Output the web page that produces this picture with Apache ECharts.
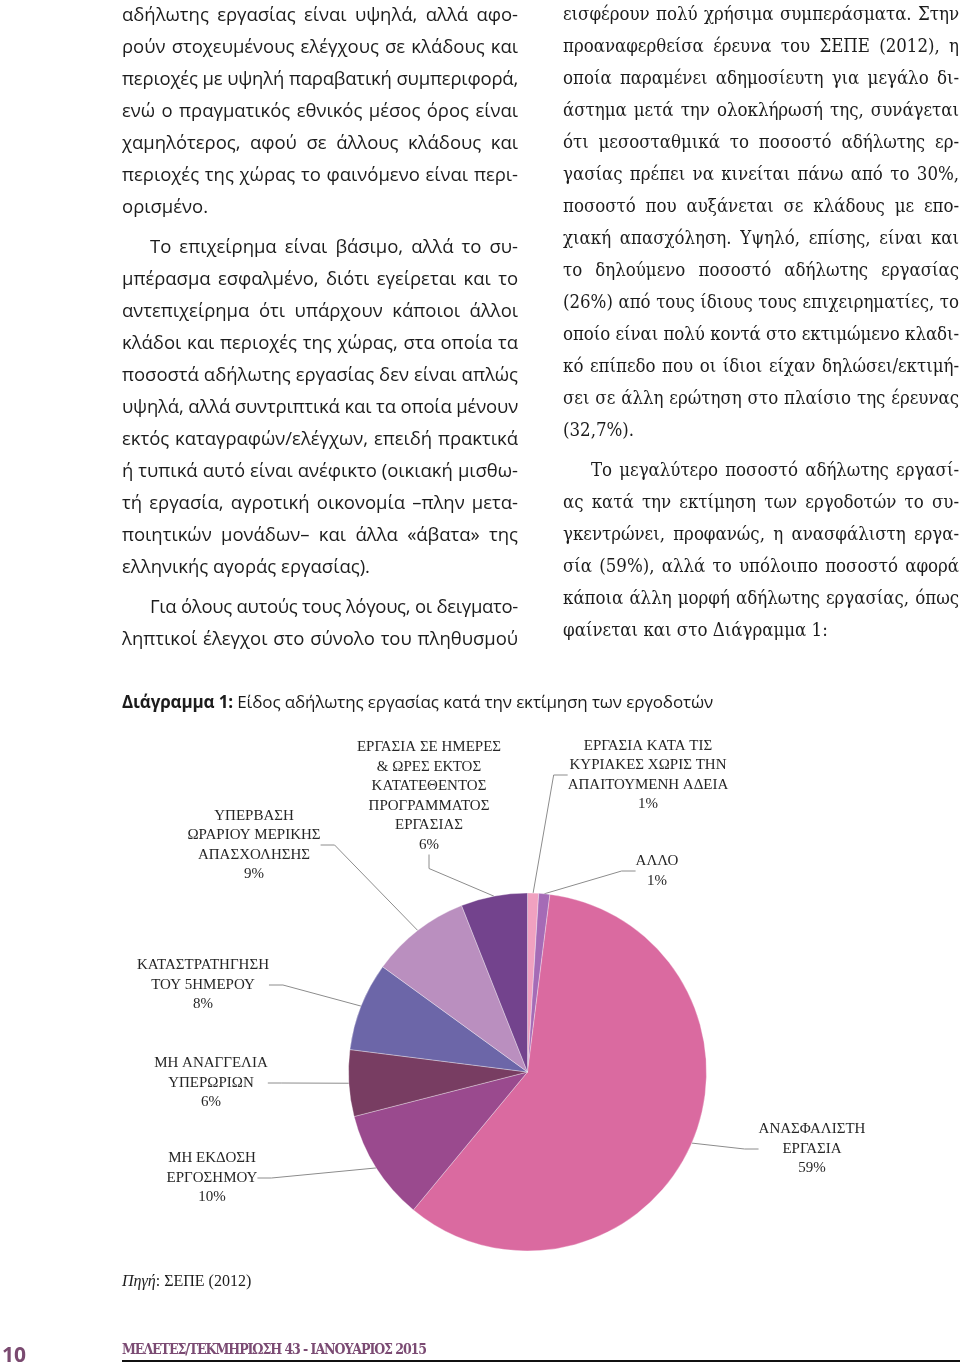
<!DOCTYPE html>
<html>
<head>
<meta charset="utf-8">
<script src="https://cdn.jsdelivr.net/npm/echarts@6/dist/echarts.min.js"></script>
<style>
html,body{margin:0;padding:0;background:#fff;}
#page{position:relative;width:960px;height:1368px;overflow:hidden;}
#chart{position:absolute;left:0;top:0;width:960px;height:1368px;}
.col{position:absolute;top:-2px;width:396px;color:#1c1c1c;line-height:32px;}
.left{left:122px;font-family:"Open Sans";font-size:18.5px;}
.right{left:563px;font-family:"DejaVu Serif";font-stretch:condensed;font-size:18.5px;}
.ln{white-space:nowrap;text-align:justify;text-align-last:justify;}
.ln.end{text-align-last:left;}
.ln.ind{padding-left:28px;}
.ln.par{margin-top:8px;}
#title{position:absolute;left:122px;top:690px;font-family:"Open Sans";font-size:17px;color:#1c1c1c;white-space:nowrap;}
#src{position:absolute;left:122px;top:1272px;font-family:"Liberation Serif";font-size:16px;color:#1c1c1c;white-space:nowrap;}
#pg{position:absolute;left:2px;top:1340px;font-family:"Open Sans";font-weight:bold;font-size:21px;color:#7a4a70;}
#foot{position:absolute;left:122px;top:1341px;font-family:"DejaVu Serif";font-stretch:condensed;font-weight:bold;font-size:14px;color:#7b4b73;white-space:nowrap;}
#rule{position:absolute;left:122px;top:1360px;width:838px;height:2px;background:#111;}
</style>
</head>
<body>
<div id="page">
  <div id="chart"></div>

  <div class="col left">
    <div class="ln">αδήλωτης εργασίας είναι υψηλά, αλλά αφο-</div>
    <div class="ln">ρούν στοχευμένους ελέγχους σε κλάδους και</div>
    <div class="ln">περιοχές με υψηλή παραβατική συμπεριφορά,</div>
    <div class="ln">ενώ ο πραγματικός εθνικός μέσος όρος είναι</div>
    <div class="ln">χαμηλότερος, αφού σε άλλους κλάδους και</div>
    <div class="ln">περιοχές της χώρας το φαινόμενο είναι περι-</div>
    <div class="ln end">ορισμένο.</div>
    <div class="ln ind par">Το επιχείρημα είναι βάσιμο, αλλά το συ-</div>
    <div class="ln">μπέρασμα εσφαλμένο, διότι εγείρεται και το</div>
    <div class="ln">αντεπιχείρημα ότι υπάρχουν κάποιοι άλλοι</div>
    <div class="ln">κλάδοι και περιοχές της χώρας, στα οποία τα</div>
    <div class="ln">ποσοστά αδήλωτης εργασίας δεν είναι απλώς</div>
    <div class="ln">υψηλά, αλλά συντριπτικά και τα οποία μένουν</div>
    <div class="ln">εκτός καταγραφών/ελέγχων, επειδή πρακτικά</div>
    <div class="ln">ή τυπικά αυτό είναι ανέφικτο (οικιακή μισθω-</div>
    <div class="ln">τή εργασία, αγροτική οικονομία –πλην μετα-</div>
    <div class="ln">ποιητικών μονάδων– και άλλα «άβατα» της</div>
    <div class="ln end">ελληνικής αγοράς εργασίας).</div>
    <div class="ln ind par">Για όλους αυτούς τους λόγους, οι δειγματο-</div>
    <div class="ln">ληπτικοί έλεγχοι στο σύνολο του πληθυσμού</div>
  </div>

  <div class="col right">
    <div class="ln">εισφέρουν πολύ χρήσιμα συμπεράσματα. Στην</div>
    <div class="ln">προαναφερθείσα έρευνα του ΣΕΠΕ (2012), η</div>
    <div class="ln">οποία παραμένει αδημοσίευτη για μεγάλο δι-</div>
    <div class="ln">άστημα μετά την ολοκλήρωσή της, συνάγεται</div>
    <div class="ln">ότι μεσοσταθμικά το ποσοστό αδήλωτης ερ-</div>
    <div class="ln">γασίας πρέπει να κινείται πάνω από το 30%,</div>
    <div class="ln">ποσοστό που αυξάνεται σε κλάδους με επο-</div>
    <div class="ln">χιακή απασχόληση. Υψηλό, επίσης, είναι και</div>
    <div class="ln">το δηλούμενο ποσοστό αδήλωτης εργασίας</div>
    <div class="ln">(26%) από τους ίδιους τους επιχειρηματίες, το</div>
    <div class="ln">οποίο είναι πολύ κοντά στο εκτιμώμενο κλαδι-</div>
    <div class="ln">κό επίπεδο που οι ίδιοι είχαν δηλώσει/εκτιμή-</div>
    <div class="ln">σει σε άλλη ερώτηση στο πλαίσιο της έρευνας</div>
    <div class="ln end">(32,7%).</div>
    <div class="ln ind par">Το μεγαλύτερο ποσοστό αδήλωτης εργασί-</div>
    <div class="ln">ας κατά την εκτίμηση των εργοδοτών το συ-</div>
    <div class="ln">γκεντρώνει, προφανώς, η ανασφάλιστη εργα-</div>
    <div class="ln">σία (59%), αλλά το υπόλοιπο ποσοστό αφορά</div>
    <div class="ln">κάποια άλλη μορφή αδήλωτης εργασίας, όπως</div>
    <div class="ln end">φαίνεται και στο Διάγραμμα 1:</div>
  </div>

  <div id="title"><b>Διάγραμμα 1:</b> Είδος αδήλωτης εργασίας κατά την εκτίμηση των εργοδοτών</div>
  <div id="src"><i>Πηγή</i>: ΣΕΠΕ (2012)</div>
  <div id="pg">10</div>
  <div id="foot">ΜΕΛΕΤΕΣ/ΤΕΚΜΗΡΙΩΣΗ 43 - ΙΑΝΟΥΑΡΙΟΣ 2015</div>
  <div id="rule"></div>
</div>

<script>
// data (clockwise from 12 o'clock)
var categories = [
  'ΕΡΓΑΣΙΑ ΚΑΤΑ ΤΙΣ\nΚΥΡΙΑΚΕΣ ΧΩΡΙΣ ΤΗΝ\nΑΠΑΙΤΟΥΜΕΝΗ ΑΔΕΙΑ',
  'ΑΛΛΟ',
  'ΑΝΑΣΦΑΛΙΣΤΗ\nΕΡΓΑΣΙΑ',
  'ΜΗ ΕΚΔΟΣΗ\nΕΡΓΟΣΗΜΟΥ',
  'ΜΗ ΑΝΑΓΓΕΛΙΑ\nΥΠΕΡΩΡΙΩΝ',
  'ΚΑΤΑΣΤΡΑΤΗΓΗΣΗ\nΤΟΥ 5ΗΜΕΡΟΥ',
  'ΥΠΕΡΒΑΣΗ\nΩΡΑΡΙΟΥ ΜΕΡΙΚΗΣ\nΑΠΑΣΧΟΛΗΣΗΣ',
  'ΕΡΓΑΣΙΑ ΣΕ ΗΜΕΡΕΣ\n& ΩΡΕΣ ΕΚΤΟΣ\nΚΑΤΑΤΕΘΕΝΤΟΣ\nΠΡΟΓΡΑΜΜΑΤΟΣ\nΕΡΓΑΣΙΑΣ'
];
var values = [1, 1, 59, 10, 6, 8, 9, 6];

// styling
var sliceColors = ['#f0a1c0', '#a56bb6', '#da6aa0', '#9a4a8e', '#783d62', '#6c66a8', '#ba8fbf', '#73438d'];
var labelSpots = [[648, 775], [657, 871], [812, 1149], [212, 1178], [211, 1083], [203, 985], [254, 845], [429, 796]];

// fit justified lines into the column width
function fitLines() {
  var lines = document.querySelectorAll('.ln');
  lines.forEach(function (el) {
    var pad = el.classList.contains('ind') ? 28 : 0;
    var target = 396 - pad - 1;
    var span = document.createElement('span');
    span.textContent = el.textContent;
    el.textContent = '';
    el.appendChild(span);
    var w = span.getBoundingClientRect().width;
    if (w > target) {
      var n = span.textContent.length;
      el.style.letterSpacing = ((target - w) / n) + 'px';
    }
  });
}
function fitExact(id, target) {
  var el = document.getElementById(id);
  var w = el.getBoundingClientRect().width;
  var n = el.textContent.length;
  el.style.letterSpacing = ((target - w) / n) + 'px';
}
fitLines();
fitExact('title', 591);
fitExact('foot', 304);

var myChart = echarts.init(document.getElementById('chart'));
var option = {
  animation: false,
  series: [
    {
      type: 'pie',
      center: [527.5, 1072],
      radius: 179,
      startAngle: 90,
      clockwise: true,
      avoidLabelOverlap: false,
      data: categories.map(function (n, i) {
        return { name: n, value: values[i], itemStyle: { color: sliceColors[i] } };
      }),
      itemStyle: { borderColor: 'rgba(255,255,255,0.55)', borderWidth: 0.6 },
      label: {
        show: true,
        formatter: function (p) { return p.name + '\n' + p.value + '%'; },
        fontFamily: 'Liberation Serif',
        fontSize: 15,
        lineHeight: 19.5,
        color: '#262626',
        align: 'center'
      },
      labelLine: {
        show: true,
        length: 15,
        length2: 14,
        lineStyle: { color: '#8c8c8c', width: 1 }
      },
      labelLayout: function (p) {
        var s = labelSpots[p.dataIndex];
        return { x: s[0], y: s[1], align: 'center', verticalAlign: 'middle' };
      },
      emphasis: { disabled: true }
    }
  ]
};
myChart.setOption(option);
</script>
</body>
</html>
